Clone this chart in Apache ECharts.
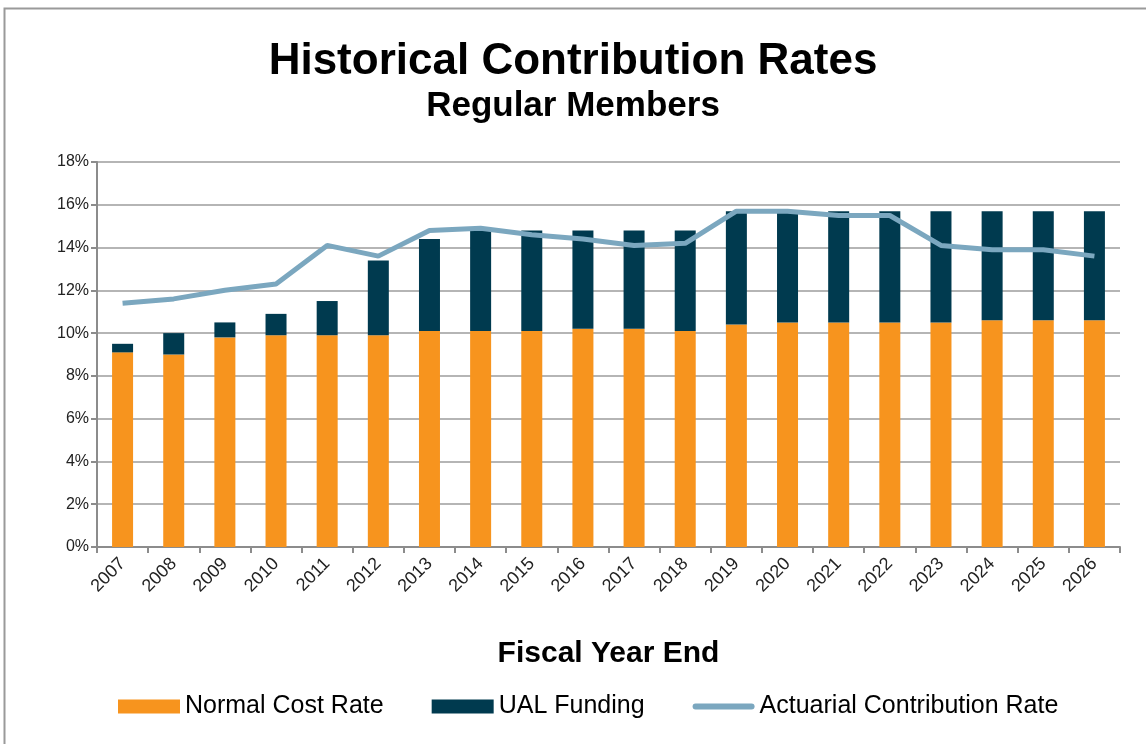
<!DOCTYPE html>
<html>
<head>
<meta charset="utf-8">
<script src="https://cdn.jsdelivr.net/npm/echarts@6/dist/echarts.min.js"></script>
<style>
  html, body { margin: 0; padding: 0; background: #fff; }
  #chart { width: 1146px; height: 744px; }
</style>
</head>
<body>
<div id="chart"></div>
<script>
const years = ['2007', '2008', '2009', '2010', '2011', '2012', '2013', '2014', '2015', '2016',
  '2017', '2018', '2019', '2020', '2021', '2022', '2023', '2024', '2025', '2026']
// normal cost rate (%)
const normalCost = [9.1, 9.0, 9.8, 9.9, 9.9, 9.9, 10.1, 10.1, 10.1, 10.2,
  10.2, 10.1, 10.4, 10.5, 10.5, 10.5, 10.5, 10.6, 10.6, 10.6]
// UAL funding (%) stacked on top
const ualFunding = [0.4, 1.0, 0.7, 1.0, 1.6, 3.5, 4.3, 4.7, 4.7, 4.6,
  4.6, 4.7, 5.3, 5.2, 5.2, 5.2, 5.2, 5.1, 5.1, 5.1]
// actuarial contribution rate (%)
const actuarialRate = [11.4, 11.6, 12.0, 12.3, 14.1, 13.6, 14.8, 14.9, 14.6, 14.4,
  14.1, 14.2, 15.7, 15.7, 15.5, 15.5, 14.1, 13.9, 13.9, 13.6]
const yTicks = [0, 2, 4, 6, 8, 10, 12, 14, 16, 18]

const font = '"Liberation Sans", Arial, sans-serif'

const chart = echarts.init(document.getElementById('chart'))

chart.setOption({
  animation: false,
  backgroundColor: '#fff',
  textStyle: { fontFamily: font },
  graphic: [{
    type: 'rect',
    shape: { x: 4.5, y: 8.5, width: 1300, height: 900 },
    style: { fill: 'none', stroke: '#9a9a9a', lineWidth: 2 },
    silent: true
  }],
  title: [{
    text: 'Historical Contribution Rates',
    left: 'center',
    top: 35,
    textStyle: { fontSize: 44, fontWeight: 'bold', color: '#000', fontFamily: font }
  }, {
    text: 'Regular Members',
    left: 'center',
    top: 84,
    textStyle: { fontSize: 35, fontWeight: 'bold', color: '#000', fontFamily: font }
  }],
  grid: {
    left: 97,
    right: 26,
    top: 162,
    bottom: 197
  },
  legend: {
    bottom: 20,
    left: 113,
    itemWidth: 62,
    itemHeight: 14,
    itemGap: 48,
    textStyle: { fontSize: 25, color: '#000', fontFamily: font },
    data: [
      { name: 'Normal Cost Rate', icon: 'rect' },
      { name: 'UAL Funding', icon: 'rect' },
      { name: 'Actuarial Contribution Rate', icon: 'path://M3,0 H59 A3,3 0 0 1 59,6 H3 A3,3 0 0 1 3,0 Z' }
    ]
  },
  xAxis: {
    type: 'category',
    data: years,
    name: 'Fiscal Year End',
    nameLocation: 'middle',
    nameGap: 92,
    nameTextStyle: { fontSize: 30, fontWeight: 'bold', color: '#000', fontFamily: font },
    axisLine: { lineStyle: { color: '#8c8c8c', width: 2 } },
    axisTick: { show: true, alignWithLabel: false, length: 6, lineStyle: { color: '#8c8c8c', width: 2 } },
    axisLabel: { rotate: 45, fontSize: 18, color: '#222', margin: 14, interval: 0 }
  },
  yAxis: {
    type: 'value',
    min: yTicks[0],
    max: yTicks[yTicks.length - 1],
    interval: 2,
    axisLine: { show: true, lineStyle: { color: '#8c8c8c', width: 2 } },
    axisTick: { show: true, length: 6, lineStyle: { color: '#8c8c8c', width: 2 } },
    axisLabel: { fontSize: 16, color: '#222', margin: 8, formatter: '{value}%' },
    splitLine: { lineStyle: { color: '#b5b5b5', width: 2 } }
  },
  series: [{
    name: 'Normal Cost Rate',
    type: 'bar',
    stack: 'rate',
    barWidth: 21,
    itemStyle: { color: '#f7941e' },
    data: normalCost
  }, {
    name: 'UAL Funding',
    type: 'bar',
    stack: 'rate',
    barWidth: 21,
    itemStyle: { color: '#003a4f' },
    data: ualFunding
  }, {
    name: 'Actuarial Contribution Rate',
    type: 'line',
    symbol: 'none',
    lineStyle: { color: '#7ba7bf', width: 5 },
    itemStyle: { color: '#7ba7bf' },
    data: actuarialRate
  }]
})
</script>
</body>
</html>
